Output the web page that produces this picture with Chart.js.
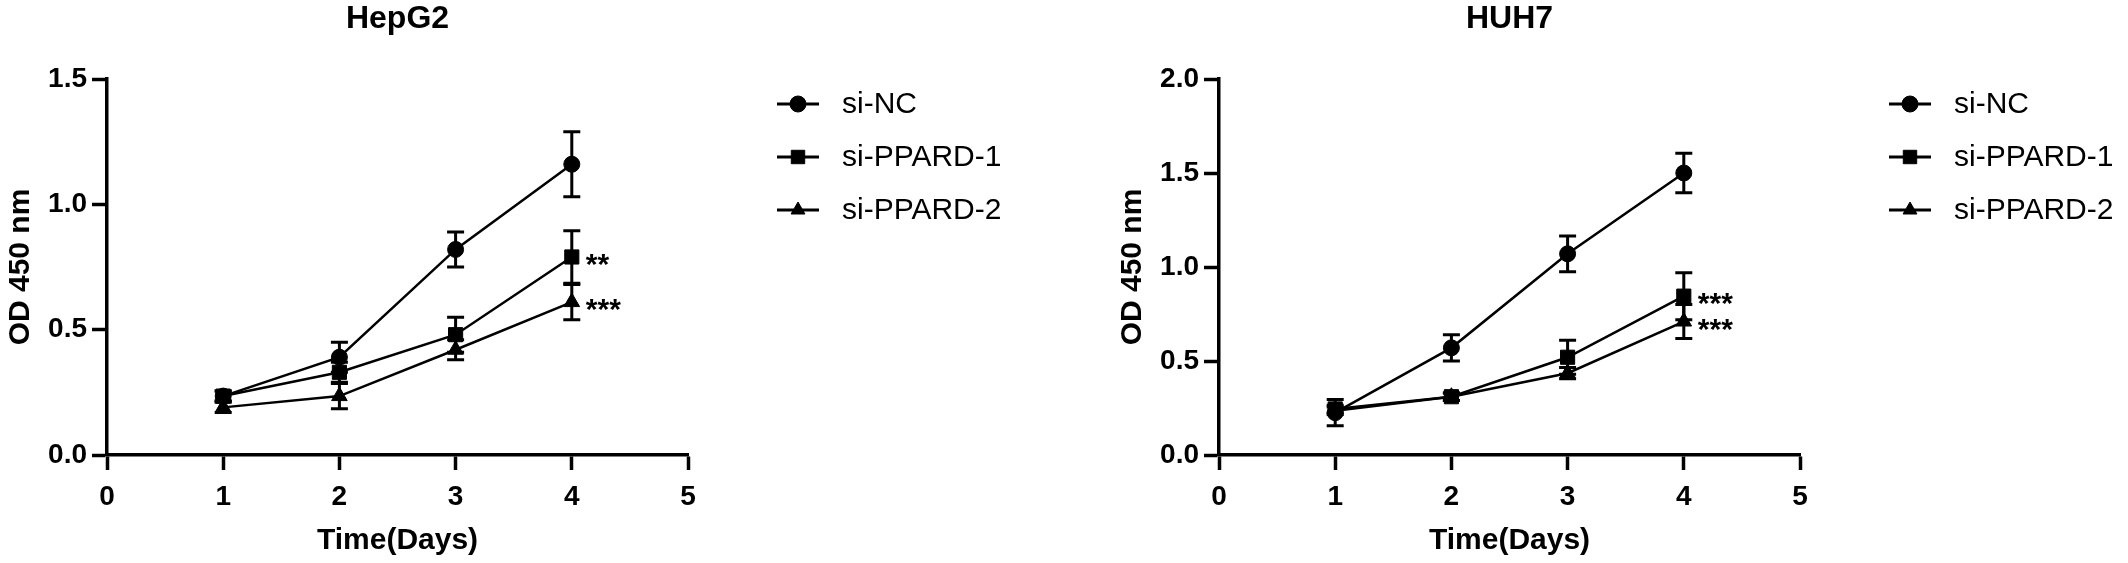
<!DOCTYPE html>
<html lang="en">
<head>
<meta charset="UTF-8">
<title>CCK-8 assay: HepG2 and HUH7</title>
<script src="https://cdn.jsdelivr.net/npm/chart.js"></script>
<style>
  body { margin: 0; background: #fff; }
  .panel { position: absolute; top: 0; width: 1016px; height: 563px; }
</style>
</head>
<body>
<div class="panel" style="left:0"><canvas id="hepg2" width="1016" height="563"></canvas></div>
<div class="panel" style="left:1112px"><canvas id="huh7" width="1016" height="563"></canvas></div>

<script>
// days on the x axis
const days = [1, 2, 3, 4];
const seriesNames = ['si-NC', 'si-PPARD-1', 'si-PPARD-2'];
const markers = ['circle', 'rect', 'triangle'];

// HepG2 OD450 means and SD
const hepg2NC = [0.235, 0.39, 0.82, 1.16];
const hepg2P1 = [0.235, 0.33, 0.48, 0.79];
const hepg2P2 = [0.19, 0.235, 0.42, 0.61];
const hepg2ErrNC = [0.02, 0.06, 0.07, 0.13];
const hepg2ErrP1 = [0.02, 0.04, 0.07, 0.105];
const hepg2ErrP2 = [0.02, 0.05, 0.04, 0.07];
const hepg2Stars = ['', '**', '***'];

// HUH7 OD450 means and SD
const huh7NC = [0.225, 0.57, 1.07, 1.50];
const huh7P1 = [0.245, 0.31, 0.52, 0.845];
const huh7P2 = [0.235, 0.31, 0.435, 0.71];
const huh7ErrNC = [0.07, 0.07, 0.095, 0.105];
const huh7ErrP1 = [0.02, 0.02, 0.09, 0.125];
const huh7ErrP2 = [0.02, 0.02, 0.03, 0.09];
const huh7Stars = ['', '***', '***'];

const FONT = "'Liberation Sans', Arial, sans-serif";

function makeChart(id, title, yMax, values, errors, stars) {
  const datasets = values.map((v, i) => ({
    label: seriesNames[i],
    data: days.map((d, j) => ({x: d, y: v[j]})),
    errors: errors[i],
    borderColor: '#000',
    borderWidth: 2.5,
    backgroundColor: '#000',
    pointStyle: markers[i],
    pointRadius: markers[i] === 'circle' ? 8 : (markers[i] === 'rect' ? 10 : 9),
    pointBackgroundColor: '#000',
    pointBorderColor: '#000',
    pointBorderWidth: 1,
    tension: 0
  }));

  const extras = {
    id: 'extras',
    afterDatasetsDraw(chart) {
      const {ctx, scales: {x, y}} = chart;
      ctx.save();
      ctx.strokeStyle = '#000';
      ctx.lineWidth = 3;
      chart.data.datasets.forEach(ds => {
        ds.data.forEach((p, j) => {
          const e = ds.errors[j];
          const px = x.getPixelForValue(p.x);
          const top = y.getPixelForValue(p.y + e);
          const bot = y.getPixelForValue(p.y - e);
          ctx.beginPath();
          ctx.moveTo(px, top); ctx.lineTo(px, bot);
          ctx.moveTo(px - 8.5, top); ctx.lineTo(px + 8.5, top);
          ctx.moveTo(px - 8.5, bot); ctx.lineTo(px + 8.5, bot);
          ctx.stroke();
        });
      });
      // significance marks after the last point
      ctx.fillStyle = '#000';
      ctx.font = 'bold 30px ' + FONT;
      ctx.textAlign = 'left';
      ctx.textBaseline = 'alphabetic';
      chart.data.datasets.forEach((ds, i) => {
        if (!stars[i]) return;
        const last = ds.data[ds.data.length - 1];
        ctx.fillText(stars[i], x.getPixelForValue(last.x) + 14, y.getPixelForValue(last.y) + 17);
      });
      ctx.restore();
    },
    afterDraw(chart) {
      const {ctx, chartArea} = chart;
      ctx.save();
      ctx.fillStyle = '#000';
      ctx.strokeStyle = '#000';
      // title
      ctx.font = 'bold 32px ' + FONT;
      ctx.textAlign = 'center';
      ctx.textBaseline = 'middle';
      ctx.fillText(title, (chartArea.left + chartArea.right) / 2, 19);
      // legend
      ctx.font = '30px ' + FONT;
      ctx.textAlign = 'left';
      chart.data.datasets.forEach((ds, i) => {
        const ly = 104 + i * 53;
        const lx = chartArea.right + 89;
        ctx.lineWidth = 3;
        ctx.beginPath();
        ctx.moveTo(lx, ly); ctx.lineTo(lx + 42, ly);
        ctx.stroke();
        ctx.lineWidth = 1;
        Chart.helpers.drawPoint(ctx, {pointStyle: markers[i], rotation: 0,
          radius: markers[i] === 'rect' ? 9.5 : 8, borderWidth: 1}, lx + 21, ly);
        ctx.fillText(ds.label, lx + 65, ly + 1);
      });
      ctx.restore();
    }
  };

  return new Chart(document.getElementById(id), {
    type: 'line',
    data: {datasets},
    plugins: [extras],
    options: {
      responsive: false,
      animation: false,
      layout: {padding: {top: 79, right: 328, left: 0, bottom: 0}},
      plugins: {legend: {display: false}, tooltip: {enabled: false}, title: {display: false}},
      scales: {
        x: {
          type: 'linear', min: 0, max: 5,
          afterFit: s => { s.height = 108; },
          border: {display: true, color: '#000', width: 3.5},
          grid: {drawOnChartArea: false, drawTicks: true, tickLength: 15, tickWidth: 3.5, tickColor: '#000'},
          ticks: {stepSize: 1, color: '#000', padding: 10, font: {family: FONT, size: 28, weight: 'bold'}},
          title: {display: true, text: 'Time(Days)', color: '#000', padding: {top: 0, bottom: 7},
            font: {family: FONT, size: 30, weight: 'bold', lineHeight: 1}}
        },
        y: {
          min: 0, max: yMax,
          afterFit: s => { s.width = 107; },
          border: {display: true, color: '#000', width: 3.5},
          grid: {drawOnChartArea: false, drawTicks: true, tickLength: 15, tickWidth: 3.5, tickColor: '#000'},
          ticks: {stepSize: 0.5, color: '#000', padding: 5, callback: v => v.toFixed(1),
            font: {family: FONT, size: 28, weight: 'bold'}},
          title: {display: true, text: 'OD 450 nm', color: '#000', padding: {top: 6, bottom: 0},
            font: {family: FONT, size: 30, weight: 'bold', lineHeight: 1}}
        }
      }
    }
  });
}

makeChart('hepg2', 'HepG2', 1.5,
  [hepg2NC, hepg2P1, hepg2P2], [hepg2ErrNC, hepg2ErrP1, hepg2ErrP2], hepg2Stars);
makeChart('huh7', 'HUH7', 2.0,
  [huh7NC, huh7P1, huh7P2], [huh7ErrNC, huh7ErrP1, huh7ErrP2], huh7Stars);
</script>
</body>
</html>
